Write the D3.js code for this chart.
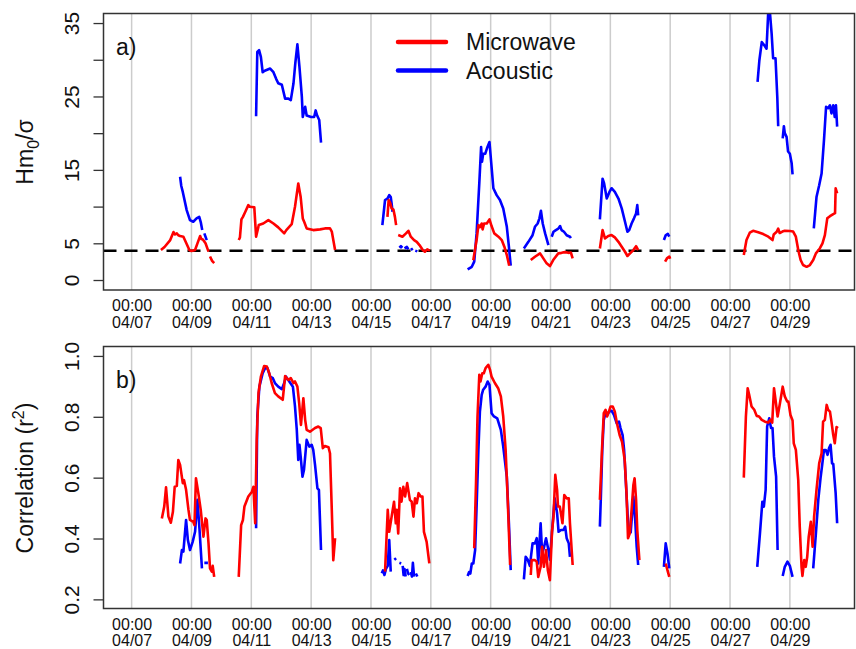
<!DOCTYPE html>
<html>
<head>
<meta charset="utf-8">
<script src="https://cdn.jsdelivr.net/npm/d3@7"></script>
<style>
  body { margin: 0; background: #fff; }
  text { font-family: "Liberation Sans", Arial, sans-serif; fill: #111; }
</style>
</head>
<body>
<div id="chart"></div>
<script>
// day-of-April values, [day, value]; each inner array is one unbroken piece of line
var tickDays = [7, 9, 11, 13, 15, 17, 19, 21, 23, 25, 27, 29];
var hmTicks = [0, 5, 10, 15, 20, 25, 30, 35];
var hmLabelled = [0, 5, 15, 25, 35];
var rTicks = [0.2, 0.4, 0.6, 0.8, 1.0];
var threshold = 4;
var seriesNames = ["Microwave", "Acoustic"];

var hmMicrowave = [
  [[7.98,4.08],[8.1,4.5],[8.29,5.44],[8.40,6.53],[8.45,6.2],[8.51,6.35],[8.56,6.1],[8.62,5.99],[8.73,5.9],[8.84,4.9],[8.93,4.08],[9.0,3.95],[9.12,4.08],[9.20,4.99],[9.29,5.99],[9.33,5.6],[9.38,5.53],[9.47,5.0],[9.57,3.86]],
  [[9.62,3.2],[9.69,2.6],[9.76,2.3]],
  [[10.58,5.44],[10.62,5.8],[10.67,8.26],[10.72,8.6],[10.80,9.3],[10.90,10.2],[10.95,9.98],[11.10,9.9],[11.16,5.9],[11.25,7.48],[11.40,7.7],[11.57,8.16],[11.74,7.7],[11.90,7.17],[12.10,6.35],[12.17,6.8],[12.35,7.6],[12.46,9.98],[12.57,13.15],[12.65,11.3],[12.72,8.39],[12.77,7.9],[12.85,7.03],[13.07,6.8],[13.30,6.9],[13.46,7.03],[13.63,7.03],[13.69,6.6],[13.80,4.08]],
  [[15.55,8.6],[15.59,10.9],[15.64,10.5],[15.69,9.75],[15.75,9.6],[15.80,8.6],[15.84,7.48]],
  [[15.91,6.12],[16.05,5.9],[16.17,6.35],[16.25,6.7],[16.33,5.9],[16.44,5.44],[16.53,5.2],[16.62,4.76],[16.73,4.08],[16.80,3.85],[16.88,4.17],[16.97,4.0]],
  [[18.42,2.7],[18.53,5.44],[18.59,7.48],[18.64,7.2],[18.70,7.7],[18.73,6.9],[18.78,7.7],[18.87,7.7],[18.96,8.26],[19.03,7.35],[19.12,6.35],[19.26,5.9],[19.37,5.44],[19.46,4.5],[19.54,3.4],[19.62,1.95]],
  [[20.34,2.72],[20.48,3.17],[20.65,3.63],[20.76,2.95],[20.87,2.27],[20.98,1.9],[21.09,2.72],[21.26,3.63],[21.37,3.7],[21.48,3.8],[21.6,3.7],[21.68,3.75],[21.74,2.95]],
  [[22.65,4.3],[22.74,6.8],[22.82,5.67],[22.93,6.0],[23.04,6.12],[23.15,5.8],[23.27,5.2],[23.38,4.53],[23.49,3.85],[23.57,3.27],[23.65,3.6],[23.77,4.08],[23.86,4.6],[23.93,4.08]],
  [[24.83,2.5],[24.9,3.0],[24.97,3.2],[25.0,2.9]],
  [[27.46,3.4],[27.55,5.44],[27.66,6.44],[27.77,6.7],[27.94,6.5],[28.11,6.26],[28.28,5.9],[28.42,5.44],[28.46,6.2],[28.56,6.57],[28.61,7.0],[28.66,6.4],[28.75,6.6],[28.83,6.7],[29.0,6.67],[29.11,6.6],[29.20,5.9],[29.28,4.08],[29.36,2.72],[29.44,2.04],[29.56,1.8],[29.67,2.04],[29.78,2.72],[29.87,3.63],[30.0,4.3],[30.09,5.0],[30.17,6.12],[30.25,8.4],[30.34,8.7],[30.45,8.98],[30.51,9.1],[30.53,12.5],[30.58,11.8]]
];

var hmAcoustic = [
  [[8.62,14.06],[8.66,12.8],[8.71,12.0],[8.84,9.52],[8.95,8.16],[9.06,7.94],[9.17,8.39],[9.26,8.6],[9.31,7.9],[9.36,6.8]],
  [[9.43,6.35],[9.51,5.44]],
  [[11.16,22.3],[11.20,31.06],[11.26,31.3],[11.32,30.4],[11.38,28.3],[11.45,28.5],[11.63,28.8],[11.74,28.3],[11.83,27.4],[11.90,26.8],[12.02,26.6],[12.13,24.7],[12.24,24.7],[12.32,24.5],[12.41,26.8],[12.47,29.5],[12.54,32.1],[12.61,29.0],[12.69,24.9],[12.72,22.2],[12.80,23.6],[12.85,22.4],[13.0,22.2],[13.1,22.2],[13.15,23.1],[13.2,22.4],[13.27,21.8],[13.33,18.7]],
  [[15.38,7.48],[15.47,10.9],[15.55,11.1],[15.61,11.56],[15.66,11.3],[15.69,10.4],[15.72,9.3]],
  [[15.95,4.4],[16.0,4.6],[16.05,4.4]],
  [[16.12,4.3],[16.2,4.5],[16.25,4.2]],
  [[16.33,4.1],[16.4,4.3]],
  [[16.48,4.0],[16.55,3.9]],
  [[18.23,1.45],[18.37,1.8],[18.45,2.5],[18.53,6.35],[18.62,13.2],[18.68,18.1],[18.71,16.1],[18.75,17.2],[18.82,17.2],[18.89,18.1],[18.96,18.8],[19.03,15.4],[19.09,12.5],[19.20,11.56],[19.31,10.9],[19.42,9.75],[19.54,7.25],[19.61,4.5],[19.67,1.95]],
  [[20.11,4.3],[20.26,5.2],[20.40,6.1],[20.48,7.25],[20.57,7.7],[20.63,8.4],[20.68,9.43],[20.74,7.7],[20.82,6.35],[20.93,4.76]],
  [[21.04,5.9],[21.10,6.57],[21.18,6.8],[21.26,7.0],[21.32,7.35],[21.37,6.8],[21.45,6.57],[21.54,6.1],[21.65,5.9],[21.68,5.7]],
  [[22.65,8.26],[22.74,13.8],[22.79,13.2],[22.88,11.1],[22.97,12.0],[23.04,12.5],[23.15,12.0],[23.27,11.1],[23.38,9.75],[23.49,7.93],[23.57,6.57],[23.63,6.8],[23.71,7.7],[23.79,8.4],[23.86,9.07],[23.90,10.2],[23.93,8.8]],
  [[24.79,5.44],[24.85,6.1],[24.92,6.3],[24.97,5.9]],
  [[27.92,27.0],[27.98,29.9],[28.06,32.4],[28.14,32.0],[28.22,31.5],[28.28,36.8],[28.33,36.6],[28.39,33.6],[28.44,30.2],[28.52,30.2],[28.58,24.9],[28.61,20.95]],
  [[28.76,19.3],[28.80,20.95],[28.83,20.0],[28.89,19.5],[28.94,17.5],[29.0,17.2],[29.06,15.9],[29.09,14.4]],
  [[29.80,7.03],[29.89,11.3],[29.98,12.9],[30.06,14.5],[30.14,19.05],[30.21,23.6],[30.28,23.4],[30.34,23.8],[30.39,22.7],[30.45,23.8],[30.50,22.2],[30.54,23.8],[30.58,20.9]]
];

var rMicrowave = [
  [[8.01,0.466],[8.09,0.505],[8.15,0.568],[8.23,0.472],[8.31,0.452],[8.38,0.488],[8.44,0.570],[8.51,0.573],[8.56,0.658],[8.62,0.642],[8.71,0.582],[8.75,0.592],[8.82,0.560],[8.90,0.494],[8.95,0.461],[9.06,0.455],[9.10,0.444],[9.15,0.598],[9.23,0.549],[9.31,0.494],[9.40,0.406],[9.47,0.466],[9.51,0.461],[9.57,0.384],[9.62,0.302],[9.68,0.291],[9.71,0.310],[9.76,0.274]],
  [[10.58,0.274],[10.66,0.444],[10.72,0.461],[10.77,0.505],[10.90,0.538],[11.02,0.554],[11.07,0.570],[11.13,0.450],[11.18,0.724],[11.24,0.878],[11.32,0.932],[11.43,0.967],[11.52,0.965],[11.60,0.943],[11.68,0.911],[11.79,0.878],[11.90,0.867],[12.05,0.856],[12.13,0.934],[12.24,0.921],[12.32,0.927],[12.41,0.911],[12.46,0.916],[12.54,0.899],[12.60,0.845],[12.66,0.773],[12.74,0.861],[12.80,0.790],[12.85,0.757],[12.96,0.751],[13.13,0.763],[13.24,0.768],[13.32,0.763],[13.39,0.697],[13.46,0.704],[13.58,0.700],[13.63,0.680],[13.69,0.494],[13.74,0.329],[13.80,0.401]],
  [[15.47,0.291],[15.56,0.494],[15.61,0.422],[15.69,0.472],[15.77,0.521],[15.83,0.450],[15.86,0.494],[15.91,0.417],[15.97,0.565],[16.02,0.521],[16.08,0.570],[16.14,0.538],[16.21,0.582],[16.30,0.527],[16.36,0.521],[16.42,0.472],[16.47,0.532],[16.53,0.516],[16.59,0.549],[16.66,0.538],[16.72,0.538],[16.77,0.422],[16.86,0.389],[16.95,0.318]],
  [[18.45,0.368],[18.51,0.582],[18.56,0.801],[18.62,0.938],[18.66,0.916],[18.72,0.943],[18.77,0.943],[18.83,0.960],[18.92,0.971],[18.98,0.954],[19.03,0.932],[19.14,0.911],[19.25,0.894],[19.34,0.867],[19.42,0.801],[19.50,0.691],[19.57,0.527],[19.65,0.313]],
  [[20.34,0.280],[20.37,0.329],[20.48,0.329],[20.54,0.324],[20.59,0.274],[20.67,0.307],[20.72,0.373],[20.78,0.307],[20.85,0.362],[20.91,0.296],[20.98,0.263],[21.05,0.422],[21.10,0.472],[21.16,0.609],[21.22,0.560],[21.25,0.505],[21.31,0.505],[21.34,0.488],[21.40,0.450],[21.46,0.543],[21.54,0.532],[21.61,0.532],[21.65,0.450],[21.74,0.313]],
  [[22.65,0.527],[22.72,0.691],[22.78,0.812],[22.84,0.823],[22.89,0.801],[22.95,0.817],[23.01,0.834],[23.08,0.834],[23.15,0.817],[23.22,0.779],[23.31,0.740],[23.39,0.718],[23.48,0.658],[23.54,0.549],[23.59,0.401],[23.65,0.417],[23.71,0.494],[23.77,0.576],[23.81,0.598],[23.86,0.527],[23.90,0.428],[23.97,0.329]],
  [[24.85,0.318],[24.91,0.295],[24.97,0.274]],
  [[27.46,0.600],[27.53,0.801],[27.59,0.894],[27.64,0.872],[27.72,0.834],[27.81,0.823],[27.89,0.803],[27.97,0.801],[28.06,0.790],[28.17,0.784],[28.28,0.781],[28.35,0.790],[28.41,0.781],[28.47,0.894],[28.52,0.856],[28.59,0.801],[28.67,0.845],[28.76,0.899],[28.83,0.867],[28.91,0.850],[28.95,0.850],[29.02,0.806],[29.09,0.788],[29.13,0.713],[29.20,0.691],[29.28,0.592],[29.33,0.439],[29.39,0.307],[29.42,0.277],[29.48,0.329],[29.53,0.307],[29.58,0.340],[29.63,0.406],[29.70,0.455],[29.76,0.373],[29.81,0.472],[29.89,0.560],[29.98,0.647],[30.06,0.680],[30.11,0.784],[30.17,0.790],[30.23,0.839],[30.28,0.823],[30.34,0.817],[30.39,0.784],[30.45,0.740],[30.50,0.713],[30.56,0.766],[30.61,0.763]]
];

var rAcoustic = [
  [[8.62,0.318],[8.68,0.362],[8.73,0.357],[8.82,0.461],[8.88,0.395],[8.95,0.362],[9.04,0.389],[9.12,0.422],[9.20,0.527],[9.27,0.428],[9.35,0.302]],
  [[9.43,0.320],[9.55,0.320]],
  [[11.16,0.434],[11.20,0.801],[11.27,0.899],[11.38,0.943],[11.46,0.960],[11.54,0.960],[11.63,0.932],[11.72,0.927],[11.79,0.911],[11.90,0.899],[12.02,0.891],[12.10,0.911],[12.16,0.932],[12.27,0.916],[12.39,0.899],[12.46,0.834],[12.52,0.757],[12.57,0.658],[12.61,0.708],[12.65,0.669],[12.71,0.603],[12.76,0.625],[12.85,0.724],[12.94,0.702],[13.02,0.708],[13.07,0.691],[13.13,0.642],[13.21,0.565],[13.26,0.560],[13.33,0.362]],
  [[15.36,0.286],[15.40,0.295],[15.45,0.28],[15.50,0.30],[15.56,0.31],[15.61,0.395],[15.66,0.291]],
  [[15.78,0.33],[15.84,0.335]],
  [[15.95,0.32],[16.01,0.318]],
  [[16.06,0.31],[16.09,0.28],[16.12,0.30],[16.16,0.275]],
  [[16.20,0.30],[16.24,0.285],[16.28,0.28]],
  [[16.33,0.29],[16.37,0.275],[16.40,0.32],[16.44,0.275]],
  [[16.50,0.285],[16.55,0.275]],
  [[18.23,0.277],[18.28,0.29],[18.32,0.285],[18.37,0.318],[18.42,0.318],[18.48,0.362],[18.53,0.505],[18.59,0.691],[18.64,0.817],[18.70,0.872],[18.75,0.889],[18.83,0.899],[18.90,0.916],[18.96,0.905],[19.03,0.812],[19.11,0.801],[19.22,0.795],[19.34,0.757],[19.42,0.702],[19.54,0.603],[19.61,0.450],[19.67,0.296]],
  [[20.11,0.266],[20.17,0.340],[20.24,0.330],[20.31,0.310],[20.40,0.384],[20.48,0.384],[20.54,0.401],[20.59,0.318],[20.67,0.450],[20.72,0.351],[20.78,0.37],[20.85,0.401],[20.93,0.362],[20.98,0.33],[21.05,0.422],[21.14,0.532],[21.22,0.483],[21.27,0.422],[21.35,0.428],[21.43,0.428],[21.49,0.439],[21.54,0.401],[21.61,0.384],[21.65,0.340]],
  [[22.65,0.439],[22.68,0.527],[22.73,0.691],[22.78,0.790],[22.85,0.817],[22.90,0.806],[22.96,0.817],[23.04,0.820],[23.12,0.806],[23.21,0.779],[23.29,0.784],[23.34,0.763],[23.41,0.740],[23.46,0.691],[23.52,0.582],[23.58,0.472],[23.63,0.417],[23.68,0.42],[23.77,0.538],[23.83,0.461],[23.88,0.373],[23.93,0.313]],
  [[24.79,0.307],[24.85,0.384],[24.91,0.35],[24.97,0.302]],
  [[27.91,0.307],[28.0,0.417],[28.08,0.521],[28.13,0.505],[28.19,0.560],[28.24,0.768],[28.31,0.795],[28.37,0.763],[28.42,0.763],[28.47,0.669],[28.54,0.603],[28.59,0.362]],
  [[28.76,0.277],[28.83,0.307],[28.92,0.324],[29.0,0.310],[29.09,0.274]],
  [[29.78,0.302],[29.87,0.417],[29.95,0.527],[30.03,0.603],[30.08,0.642],[30.14,0.691],[30.20,0.691],[30.26,0.675],[30.31,0.697],[30.36,0.708],[30.41,0.647],[30.45,0.645],[30.53,0.549],[30.58,0.450]]
];

var colors = {Microwave: "#ff0000", Acoustic: "#0000ff"};

// day-of-April -> Date
function day(d) { return new Date(Date.UTC(2016, 3, 1) + (d - 1) * 864e5); }

var width = 856, height = 649;
var left = 103.5, right = 854.5;

var svg = d3.select("#chart").append("svg")
    .attr("width", width)
    .attr("height", height);

var x = d3.scaleUtc()
    .domain([day(6.06), day(31.16)])
    .range([left, right]);

var fmtDate = d3.utcFormat("%m/%d");

function drawPanel(p) {
  var y = d3.scaleLinear().domain(p.domain).range([p.bottom, p.top]);
  var g = svg.append("g");

  // vertical grid at each labelled day
  g.selectAll(".grid")
    .data(tickDays)
    .enter().append("line")
      .attr("x1", function(d) { return x(day(d)); })
      .attr("x2", function(d) { return x(day(d)); })
      .attr("y1", p.top)
      .attr("y2", p.bottom)
      .attr("stroke", "#cccccc")
      .attr("stroke-width", 1.5);

  var clipId = "clip" + p.name;
  svg.append("clipPath").attr("id", clipId)
    .append("rect")
      .attr("x", left).attr("y", p.top)
      .attr("width", right - left).attr("height", p.bottom - p.top);

  if (p.hline != null) {
    g.append("line")
      .attr("x1", left).attr("x2", right)
      .attr("y1", y(p.hline)).attr("y2", y(p.hline))
      .attr("stroke", "#000")
      .attr("stroke-width", 2.5)
      .attr("stroke-dasharray", "13,8");
  }

  var line = d3.line()
    .x(function(d) { return x(day(d[0])); })
    .y(function(d) { return y(d[1]); });

  var lines = g.append("g").attr("clip-path", "url(#" + clipId + ")");
  [["Acoustic", p.acoustic], ["Microwave", p.microwave]].forEach(function(s) {
    lines.selectAll(null)
      .data(s[1])
      .enter().append("path")
        .attr("d", line)
        .attr("fill", "none")
        .attr("stroke", colors[s[0]])
        .attr("stroke-width", 2.6)
        .attr("stroke-linejoin", "round");
  });

  // frame
  g.append("rect")
    .attr("x", left).attr("y", p.top)
    .attr("width", right - left).attr("height", p.bottom - p.top)
    .attr("fill", "none")
    .attr("stroke", "#333")
    .attr("stroke-width", 1.5);

  // y axis
  var ya = g.append("g")
    .attr("transform", "translate(" + left + ",0)")
    .call(d3.axisLeft(y).tickValues(p.ticks).tickSize(10).tickFormat(p.fmt));
  ya.select(".domain").remove();
  ya.selectAll(".tick line").attr("stroke", "#333").attr("stroke-width", 1.3);
  ya.selectAll(".tick text")
    .attr("x", null).attr("dy", null)
    .attr("text-anchor", "middle")
    .attr("transform", "translate(-25,0) rotate(-90)")
    .style("font-size", "21px")
    .style("font-family", "'Liberation Sans', Arial, sans-serif")
    .attr("fill", "#111");

  // x axis: two-line labels
  var xa = g.append("g")
    .attr("transform", "translate(0," + p.bottom + ")")
    .call(d3.axisBottom(x).tickValues(tickDays.map(day)).tickSize(0));
  xa.select(".domain").remove();
  xa.selectAll(".tick text").each(function(d) {
    var t = d3.select(this).text(null).attr("dy", null).attr("y", null)
      .style("font-size", "16px")
      .style("font-family", "'Liberation Sans', Arial, sans-serif")
      .attr("fill", "#111");
    t.append("tspan").attr("x", 0).attr("y", 21).text("00:00");
    t.append("tspan").attr("x", 0).attr("y", 37.5).text(fmtDate(d));
  });

  // panel tag
  g.append("text")
    .attr("x", 116).attr("y", p.top + 41)
    .style("font-size", "23px")
    .text(p.tag);

  // axis title
  var title = g.append("text")
    .attr("text-anchor", "middle")
    .attr("transform", "translate(33," + p.titleY + ") rotate(-90)")
    .style("font-size", "23px");
  p.title(title);

  return y;
}

drawPanel({
  name: "a", top: 13.5, bottom: 290, domain: [-1.36, 36.3],
  ticks: hmTicks,
  fmt: function(v) { return hmLabelled.indexOf(v) >= 0 ? v : ""; },
  microwave: hmMicrowave, acoustic: hmAcoustic,
  hline: threshold, tag: "a)", titleY: 152,
  title: function(t) {
    t.append("tspan").text("Hm");
    t.append("tspan").attr("dy", 6).style("font-size", "16px").text("0");
    t.append("tspan").attr("dy", -6).text("/\u03c3");
  }
});

drawPanel({
  name: "b", top: 346.5, bottom: 608.5, domain: [0.170, 1.031],
  ticks: rTicks,
  fmt: d3.format(".1f"),
  microwave: rMicrowave, acoustic: rAcoustic,
  hline: null, tag: "b)", titleY: 478,
  title: function(t) {
    t.append("tspan").text("Correlation (r");
    t.append("tspan").attr("dy", -9).style("font-size", "16px").text("2");
    t.append("tspan").attr("dy", 9).text(")");
  }
});

// legend
var legend = svg.append("g");
seriesNames.forEach(function(name, i) {
  var ly = 42 + i * 28.5;
  legend.append("line")
    .attr("x1", 398).attr("x2", 446)
    .attr("y1", ly).attr("y2", ly)
    .attr("stroke", colors[name])
    .attr("stroke-width", 4.5)
    .attr("stroke-linecap", "round");
  legend.append("text")
    .attr("x", 466).attr("y", ly + 8)
    .style("font-size", "23px")
    .text(name);
});
</script>
</body>
</html>
